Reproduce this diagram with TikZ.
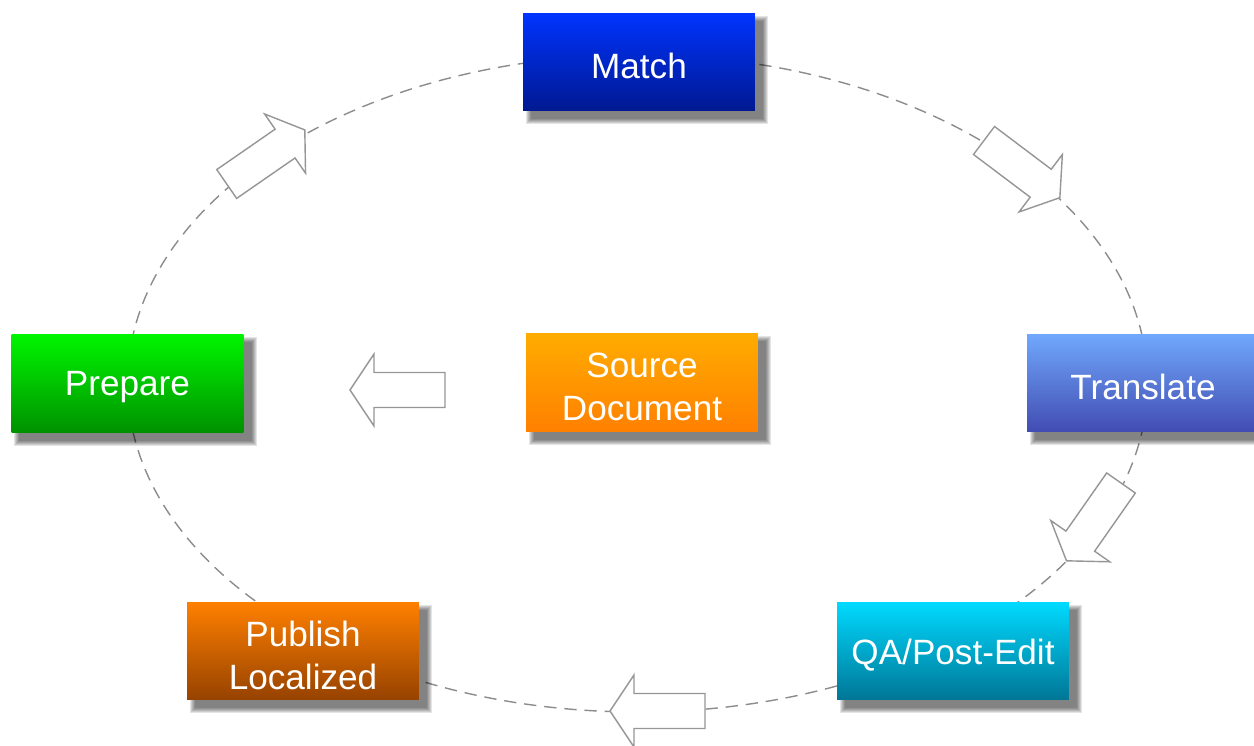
\documentclass[tikz,border=0pt]{standalone}
\usepackage{fontspec}
\setmainfont{Liberation Sans}
\usetikzlibrary{backgrounds,calc}
\definecolor{matchT}{RGB}{0,52,255}
\definecolor{matchB}{RGB}{0,24,145}
\definecolor{prepT}{RGB}{0,245,0}
\definecolor{prepB}{RGB}{0,145,0}
\definecolor{srcT}{RGB}{255,172,0}
\definecolor{srcB}{RGB}{255,128,0}
\definecolor{transT}{RGB}{112,168,252}
\definecolor{transB}{RGB}{66,76,178}
\definecolor{pubT}{RGB}{255,128,0}
\definecolor{pubB}{RGB}{150,66,0}
\definecolor{qaT}{RGB}{0,218,255}
\definecolor{qaB}{RGB}{0,118,150}
\definecolor{lineG}{RGB}{140,140,140}
\definecolor{arrG}{RGB}{150,150,150}
\newcommand{\boxshadow}[1]{%
  \foreach \k in {0,...,5}{%
    \fill[black,opacity=0.105] ($(#1.south west)+(8-\k,8+\k)$) rectangle ($(#1.north east)+(8+\k,8-\k)$);}}
\tikzset{
  box/.style={minimum width=4.64cm, minimum height=1.96cm, inner sep=0pt},
  boxtext/.style={text=white, font=\fontsize{20}{24.5}\selectfont, align=center, yshift=-0.08cm, inner sep=0pt},
  ring/.style={draw=lineG, line width=0.8pt, dash pattern=on 7pt off 4.5pt},
  arrowline/.style={draw=arrG, fill=white, line width=0.8pt, line join=miter},
  blockarr/.pic={\path[arrowline] (0,17.5)--(71,17.5)--(71,36)--(95,0)--(71,-36)--(71,-17.5)--(0,-17.5)--cycle;}
}
\begin{document}
\begin{tikzpicture}[x=0.02cm,y=-0.02cm]
\useasboundingbox (0,0) rectangle (1254,746);
\clip (0,0) rectangle (1254,746);
% nodes
\node[box, top color=matchT, bottom color=matchB, label={[boxtext]center:Match}] (match) at (639,62) {};
\node[box, top color=prepT, bottom color=prepB, label={[boxtext]center:Prepare}] (prepare) at (127.5,383.5) {};
\node[box, top color=srcT, bottom color=srcB, label={[boxtext]center:{Source\\Document}}] (source) at (642,382.5) {};
\node[box, top color=transT, bottom color=transB, label={[boxtext]center:Translate}] (translate) at (1143,383) {};
\node[box, top color=pubT, bottom color=pubB, label={[boxtext]center:{Publish\\Localized}}] (publish) at (303,651) {};
\node[box, top color=qaT, bottom color=qaB, label={[boxtext]center:QA/Post-Edit}] (qa) at (953,651) {};
\begin{scope}[on background layer]
  \coordinate (ctr) at (637.5,383.5);
  \draw[ring] (ctr) ellipse [x radius=510, y radius=328.5];
  \foreach \n in {match,prepare,source,translate,publish,qa}{\boxshadow{\n}}
\end{scope}
% block arrows
\pic[rotate=34.7] at (226.7,184) {blockarr};
\pic[rotate=-37] at (984,140.5) {blockarr};
\pic[rotate=-125] at (1121,483) {blockarr};
\pic[rotate=180] at (705,711) {blockarr};
\pic[rotate=180] at (445,390) {blockarr};
\end{tikzpicture}
\end{document}
